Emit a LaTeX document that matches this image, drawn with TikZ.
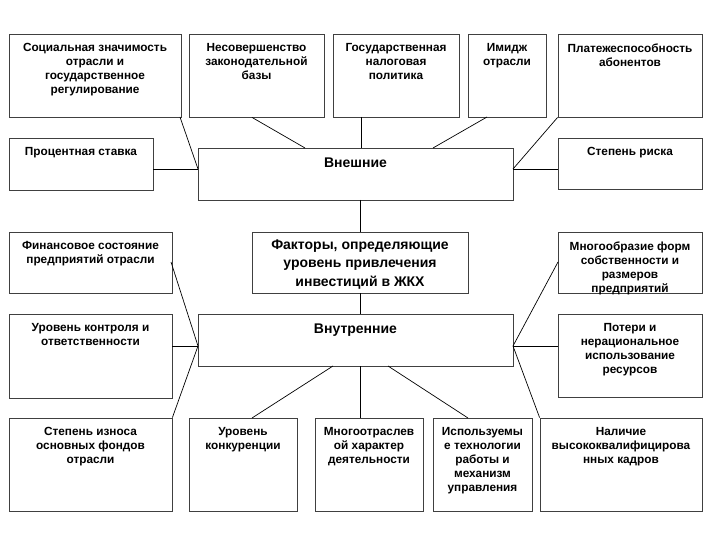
\documentclass[tikz,border=0pt]{standalone}
\usepackage{fontspec}
\setmainfont{Liberation Sans}
\newcommand\fbx[6]{% name, x1, y1, x2, y2, text
  \node[boxst, minimum width=#4pt-#2pt, minimum height=#5pt-#3pt] (#1) at ({(#2+#4)/2},{(#3+#5)/2}) {};
  \node[txt] (#1t) at ($(#1.north)+(0,9.8)$) {#6};
}
\usetikzlibrary{calc}
\begin{document}
\begin{tikzpicture}[x=1pt,y=-1pt,
  boxst/.style={draw=black!75, line width=0.8pt, inner sep=0pt, fill=white},
  txt/.style={anchor=north, align=center, inner sep=0pt, font=\fontsize{11.8}{14}\selectfont\bfseries},
  big/.style={anchor=north, align=center, inner sep=0pt, font=\fontsize{14}{18.5}\selectfont\bfseries},
  conn/.style={draw=black, line width=0.7pt}]
\useasboundingbox (0,0) rectangle (720,540);
\fbx{soc}{9}{34}{181}{117}{Социальная значимость\\отрасли и\\государственное\\регулирование}
\fbx{nes}{189}{34}{324}{117}{Несовершенство\\законодательной\\базы}
\fbx{gos}{333}{34}{459}{117}{Государственная\\налоговая\\политика}
\fbx{img}{468}{34}{546}{117}{Имидж\\отрасли}
\fbx{plat}{558}{34}{702}{117}{Платежеспособность\\абонентов}
\fbx{proc}{9}{138}{153}{190}{Процентная ставка}
\fbx{risk}{558}{138}{702}{189}{Степень риска}
\node[boxst, minimum width=315pt, minimum height=52pt] (ext) at (355.5,174) {};
\node[big] (extt) at ($(ext.north)+(0,10.5)$) {Внешние};
\node[boxst, minimum width=216pt, minimum height=61pt] (fact) at (360,262.5) {};
\node[big] (factt) at ($(fact.north)+(0,7.5)$) {Факторы, определяющие\\уровень привлечения\\инвестиций в ЖКХ};
\fbx{fin}{9}{232}{172}{293}{Финансовое состояние\\предприятий отрасли}
\fbx{mnog}{558}{232}{702}{293}{Многообразие форм\\собственности и\\размеров\\предприятий}
\fbx{ctrl}{9}{314}{172}{398}{Уровень контроля и\\ответственности}
\node[boxst, minimum width=315pt, minimum height=52pt] (int) at (355.5,340) {};
\node[big] (intt) at ($(int.north)+(0,10.5)$) {Внутренние};
\fbx{loss}{558}{314}{702}{397}{Потери и\\нерациональное\\использование\\ресурсов}
\fbx{izn}{9}{418}{172}{511}{Степень износа\\основных фондов\\отрасли}
\fbx{konk}{189}{418}{297}{511}{Уровень\\конкуренции}
\fbx{mnot}{315}{418}{423}{511}{Многоотраслев\\ой характер\\деятельности}
\fbx{isp}{433}{418}{532}{511}{Используемы\\е технологии\\работы и\\механизм\\управления}
\fbx{nal}{540}{418}{702}{511}{Наличие\\высококвалифицирова\\нных кадров}
% connection points
\coordinate (extL) at (198,169);
\coordinate (extR) at (513,169);
\coordinate (intL) at (198,346);
\coordinate (intR) at (513,346);
% external connectors
\draw[conn] (180,117) -- (extL);
\draw[conn] (proc.east |- extL) -- (extL);
\draw[conn] (nes.south -| 252,0) -- (305,148);
\draw[conn] (361,117) -- (361,148);
\draw[conn] (487,117) -- (433,148);
\draw[conn] (plat.south west) -- (extR);
\draw[conn] (extR) -- (risk.west |- extR);
% centre
\draw[conn] (360,200) -- (fact.north);
\draw[conn] (fact.south) -- (360,314);
\draw[conn] (360,366) -- (360,418);
% internal connectors
\draw[conn] (171,262) -- (intL);
\draw[conn] (ctrl.east |- intL) -- (intL);
\draw[conn] (intL) -- (izn.north east);
\draw[conn] (333,366) -- (252,418);
\draw[conn] (388,366) -- (468,418);
\draw[conn] (intR) -- (558,262);
\draw[conn] (intR) -- (loss.west |- intR);
\draw[conn] (intR) -- (nal.north west);
\end{tikzpicture}
\end{document}
